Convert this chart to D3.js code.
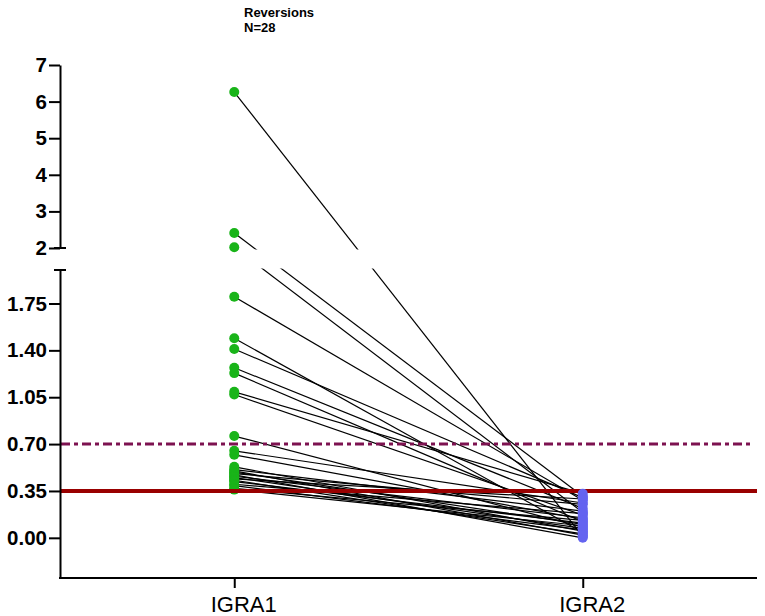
<!DOCTYPE html>
<html>
<head>
<meta charset="utf-8">
<script src="https://cdn.jsdelivr.net/npm/d3@7/dist/d3.min.js"></script>
<style>
  html, body { margin: 0; padding: 0; background: #fff; }
  svg { display: block; font-family: "Liberation Sans", Arial, Helvetica, sans-serif; }
</style>
</head>
<body>
<svg id="chart" width="765" height="616"></svg>
<script>
// ---- data ----
const categories = ["IGRA1", "IGRA2"];
const igra1 = [6.26, 2.41, 2.02, 1.80, 1.49, 1.41, 1.27, 1.23, 1.09, 1.07, 0.76, 0.65, 0.62,
               0.53, 0.51, 0.50, 0.49, 0.48, 0.47, 0.46, 0.45, 0.44, 0.43, 0.42, 0.40, 0.39, 0.37, 0.36];
const igra2 = [0.01, 0.31, 0.19, 0.28, 0.04, 0.30, 0.22, 0.12, 0.33, 0.17, 0.08, 0.26, 0.14,
               0.05, 0.20, 0.02, 0.10, 0.25, 0.00, 0.15, 0.07, 0.29, 0.03, 0.11, 0.18, 0.06, 0.13, 0.09];
const lowerTicks = [0, 0.35, 0.70, 1.05, 1.40, 1.75];
const upperTicks = [2, 3, 4, 5, 6, 7];
const cutoffSolid = 0.35;
const cutoffDashed = 0.70;
const titleLines = ["Reversions", "N=28"];

// ---- scales ----
const svg = d3.select("#chart");
const xLeft = 60, xRight = 757;
const x = d3.scalePoint().domain(categories).range([xLeft, xRight]).padding(0.5);
const yLow = d3.scaleLinear().domain([-0.3, 2]).range([578, 270]);
const yHigh = d3.scaleLinear().domain([2, 7]).range([248, 65]);
const y = v => v <= 2 ? yLow(v) : yHigh(v);

const pairs = igra1.map((v, i) => ({a: v, b: igra2[i]}));

// connecting lines
svg.append("g").selectAll("line").data(pairs).join("line")
  .attr("x1", x("IGRA1")).attr("y1", d => y(d.a))
  .attr("x2", x("IGRA2")).attr("y2", d => y(d.b))
  .attr("stroke", "#000").attr("stroke-width", 1.2);

// axis break gap mask
svg.append("rect").attr("x", xLeft + 1).attr("y", 249.5)
  .attr("width", 765 - xLeft).attr("height", 19).attr("fill", "#fff");

// points
svg.append("g").selectAll("circle").data(igra1).join("circle")
  .attr("cx", x("IGRA1")).attr("cy", d => y(d)).attr("r", 5).attr("fill", "#19b419");

// reference lines
svg.append("line").attr("x1", xLeft + 1).attr("x2", 750)
  .attr("y1", yLow(cutoffDashed)).attr("y2", yLow(cutoffDashed))
  .attr("stroke", "#7d1250").attr("stroke-width", 3).attr("stroke-dasharray", "9,4,4,4");
svg.append("line").attr("x1", xLeft + 1).attr("x2", xRight)
  .attr("y1", yLow(cutoffSolid)).attr("y2", yLow(cutoffSolid))
  .attr("stroke", "#990000").attr("stroke-width", 4);

svg.append("g").selectAll("circle").data(igra2).join("circle")
  .attr("cx", x("IGRA2")).attr("cy", d => y(d)).attr("r", 5).attr("fill", "#6464f0");

// ---- axes ----
function styleAxis(g, size, weight) {
  g.selectAll("path, line").attr("stroke", "#000").attr("stroke-width", 2);
  g.selectAll("text").attr("fill", "#000").attr("font-size", size).attr("font-weight", weight)
    .attr("font-family", '"Liberation Sans", Arial, sans-serif');
}
const gLow = svg.append("g").attr("transform", `translate(${xLeft},0)`)
  .call(d3.axisLeft(yLow).tickValues(lowerTicks).tickFormat(d3.format(".2f"))
    .tickSize(11).tickSizeOuter(0).tickPadding(2));
styleAxis(gLow, 20.5, "bold");
const gHigh = svg.append("g").attr("transform", `translate(${xLeft},0)`)
  .call(d3.axisLeft(yHigh).tickValues(upperTicks).tickFormat(d3.format("d"))
    .tickSize(11).tickSizeOuter(0).tickPadding(2));
styleAxis(gHigh, 20.5, "bold");

// break caps
svg.append("line").attr("x1", xLeft - 6).attr("x2", xLeft + 6)
  .attr("y1", yHigh(2)).attr("y2", yHigh(2)).attr("stroke", "#000").attr("stroke-width", 2);
svg.append("line").attr("x1", xLeft - 6).attr("x2", xLeft + 6)
  .attr("y1", yLow(2)).attr("y2", yLow(2)).attr("stroke", "#000").attr("stroke-width", 2);

const gx = svg.append("g").attr("transform", `translate(0,${yLow(-0.3)})`)
  .call(d3.axisBottom(x).tickSize(10).tickSizeOuter(0).tickPadding(8));
styleAxis(gx, 22, "normal");
gx.select("path.domain").attr("d", `M${xLeft - 1},0H${xRight}`);
gx.selectAll("text").attr("dx", 9);

// ---- title ----
svg.append("g").selectAll("text").data(titleLines).join("text")
  .attr("x", 244).attr("y", (d, i) => 17 + i * 15)
  .attr("font-size", 13).attr("font-weight", "bold").attr("fill", "#000")
  .text(d => d);
</script>
</body>
</html>
